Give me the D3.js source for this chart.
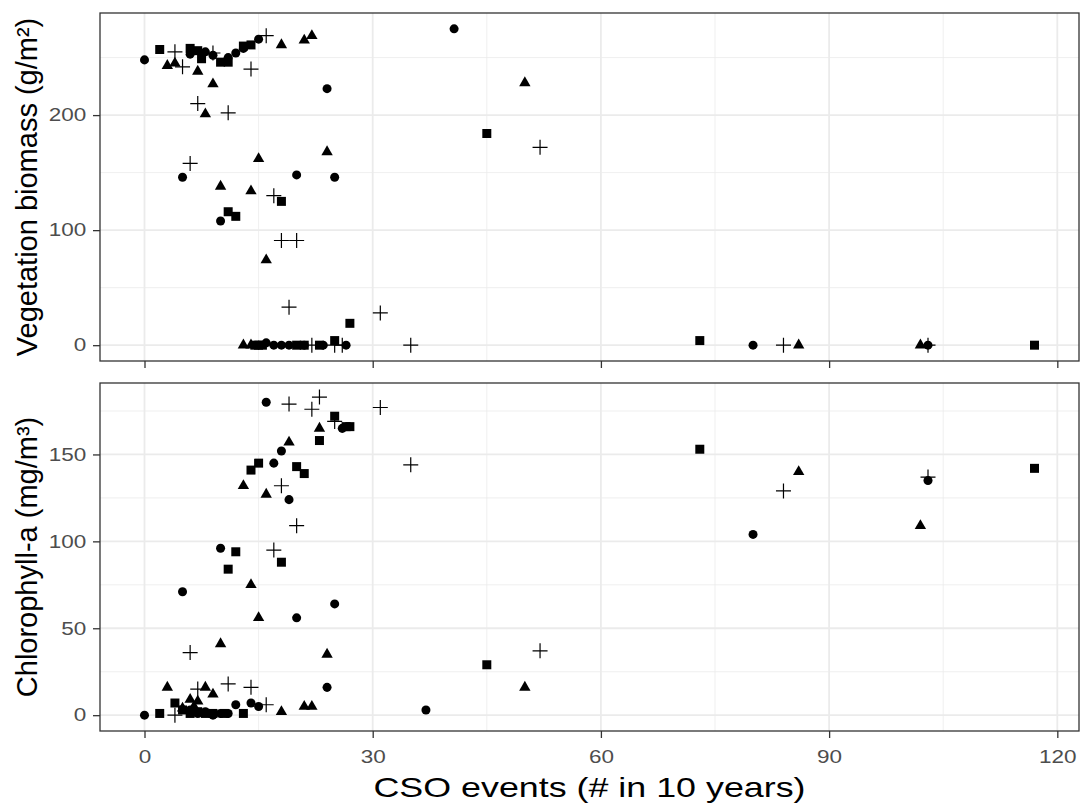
<!DOCTYPE html>
<html lang="en">
<head>
<meta charset="UTF-8">
<script src="https://d3js.org/d3.v7.min.js"></script>
<style>
  body { margin: 0; background: #fff; }
  svg { font-family: "Liberation Sans", Arial, sans-serif; }
</style>
</head>
<body>
<div id="chart"></div>
<script>
// CSO events (x) vs response (y), one array per shape and panel
const vegCircle = [[0,248],[6,253],[8,255],[9,252],[11,250],[12,254],[13,258],[15,266],[5,146],[10,108],[20,148],[24,223],[25,146],[40.7,275],[16,2],[17,0],[18,0],[19,0],[21,0],[23.5,0],[26.5,0],[80,0],[103,0]];
const vegSquare = [[2,257],[6,258],[7,256],[7.5,249],[10,246],[11,246],[13,260],[14,261],[11,116],[12,112],[18,125],[45,184],[14.5,0],[15,0],[15.5,0],[20,0],[21,0],[23,0],[25,4],[27,19],[73,4],[117,0]];
const vegTriangle = [[3,243],[4,245],[7,238],[9,227],[8,201],[18,261],[21,265],[22,269],[15,162],[24,168],[10,138],[14,134],[16,74],[50,228],[13,0],[14,0],[86,0],[102,0]];
const vegPlus = [[4,255],[5,242],[9,254],[7,210],[11,202],[14,240],[16,269],[6,158],[17,130],[18,91],[20,91],[19,33],[31,28],[35,0],[22,0],[25,0],[26,0],[52,172],[84,0],[103,0]];

const chlCircle = [[16,180],[26,165],[18,152],[17,145],[19,124],[10,96],[5,71],[20,56],[25,64],[24,16],[12,6],[14,7],[15,5],[37,3],[0,0],[80,104],[103,135],[6,3],[7,1],[8,2],[9,0],[10,1],[11,1]];
const chlSquare = [[25,172],[26.5,166],[27,166],[23,158],[15,145],[14,141],[20,143],[21,139],[12,94],[18,88],[11,84],[45,29],[2,1],[4,7],[13,1],[5,3],[6,1],[7,2],[8,1],[9,1],[10.5,1],[73,153],[117,142]];
const chlTriangle = [[23,165],[19,157],[13,132],[16,127],[14,75],[15,56],[10,41],[24,35],[3,16],[8,16],[9,12],[18,2],[21,5],[22,5],[50,16],[6,9],[6.5,5],[7,8],[5,4],[86,140],[102,109]];
const chlPlus = [[19,179],[23,183],[22,176],[31,177],[25,169],[18,132],[20,109],[17,95],[35,144],[6,36],[7,15],[11,18],[14,16],[16,6],[4,0],[52,37],[84,129],[103,137]];

const xTicks = [0, 30, 60, 90, 120];
const xMinor = [15, 45, 75, 105];
const vegTicks = [0, 100, 200];
const vegMinor = [50, 150, 250];
const chlTicks = [0, 50, 100, 150];
const chlMinor = [25, 75, 125, 175];

const width = 1080, height = 803;
const left = 100, right = 1079;
const stretch = 1.25; // picture is wider than it is tall, text too

const svg = d3.select("#chart").append("svg")
    .attr("width", width).attr("height", height);

const x = d3.scaleLinear().domain([-5.85, 122.85]).range([left, right]);

const panels = [
    { top: 13, bottom: 361, domain: [-13.75, 288.75], ticks: vegTicks, minor: vegMinor,
      title: "Vegetation biomass (g/m²)", labels: false,
      series: [[vegCircle, "circle"], [vegSquare, "square"], [vegTriangle, "triangle"], [vegPlus, "plus"]] },
    { top: 383, bottom: 731, domain: [-9.1, 191.1], ticks: chlTicks, minor: chlMinor,
      title: "Chlorophyll-a (mg/m³)", labels: true,
      series: [[chlCircle, "circle"], [chlSquare, "square"], [chlTriangle, "triangle"], [chlPlus, "plus"]] }
];

const symCircle = d3.symbol().type(d3.symbolCircle).size(64)();
const symSquare = d3.symbol().type(d3.symbolSquare).size(81)();
const symTriangle = d3.symbol().type(d3.symbolTriangle).size(56)();

panels.forEach(p => {
    const y = d3.scaleLinear().domain(p.domain).range([p.bottom, p.top]);
    const g = svg.append("g");

    // grid
    g.selectAll(".minx").data(xMinor).join("line")
        .attr("x1", d => x(d)).attr("x2", d => x(d))
        .attr("y1", p.top).attr("y2", p.bottom)
        .attr("stroke", "#ebebeb").attr("stroke-width", 0.8);
    g.selectAll(".miny").data(p.minor).join("line")
        .attr("x1", left).attr("x2", right)
        .attr("y1", d => y(d)).attr("y2", d => y(d))
        .attr("stroke", "#ebebeb").attr("stroke-width", 0.8);
    g.selectAll(".majx").data(xTicks).join("line")
        .attr("x1", d => x(d)).attr("x2", d => x(d))
        .attr("y1", p.top).attr("y2", p.bottom)
        .attr("stroke", "#ebebeb").attr("stroke-width", 1.8);
    g.selectAll(".majy").data(p.ticks).join("line")
        .attr("x1", left).attr("x2", right)
        .attr("y1", d => y(d)).attr("y2", d => y(d))
        .attr("stroke", "#ebebeb").attr("stroke-width", 1.8);

    // points
    p.series.forEach(([data, shape]) => {
        const pts = g.selectAll(null).data(data).join("path")
            .attr("transform", d => `translate(${x(d[0])},${y(d[1])})`);
        if (shape === "plus") {
            pts.attr("d", "M-7.5,0H7.5M0,-7.5V7.5").attr("stroke", "#000").attr("stroke-width", 1.2).attr("fill", "none");
        } else {
            pts.attr("d", shape === "circle" ? symCircle : shape === "square" ? symSquare : symTriangle)
                .attr("fill", "#000");
        }
    });

    // axes
    const yAxis = d3.axisLeft(y).tickValues(p.ticks).tickSize(7).tickPadding(4);
    const ya = svg.append("g").attr("transform", `translate(${left},0)`).call(yAxis);
    const xAxis = d3.axisBottom(x).tickValues(xTicks).tickSize(7).tickPadding(12)
        .tickFormat(p.labels ? d3.format("d") : "");
    const xa = svg.append("g").attr("transform", `translate(0,${p.bottom})`).call(xAxis);
    [ya, xa].forEach(a => {
        a.select(".domain").remove();
        a.selectAll(".tick line").attr("stroke", "#333").attr("stroke-width", 1.3);
        a.selectAll(".tick text").attr("fill", "#4d4d4d").style("font-size", "18px")
            .attr("transform", `scale(${stretch},1)`);
    });

    // panel border
    svg.append("rect")
        .attr("x", left).attr("y", p.top)
        .attr("width", right - left).attr("height", p.bottom - p.top)
        .attr("fill", "none").attr("stroke", "#333").attr("stroke-width", 1.3);

    svg.append("text")
        .attr("transform", `translate(37,${(p.top + p.bottom) / 2}) rotate(-90)`)
        .attr("text-anchor", "middle")
        .style("font-size", "29px")
        .text(p.title);
});

svg.append("text")
    .attr("x", (left + right) / 2).attr("y", 797)
    .attr("text-anchor", "middle")
    .attr("textLength", 432).attr("lengthAdjust", "spacingAndGlyphs")
    .style("font-size", "28px")
    .text("CSO events (# in 10 years)");
</script>
</body>
</html>
